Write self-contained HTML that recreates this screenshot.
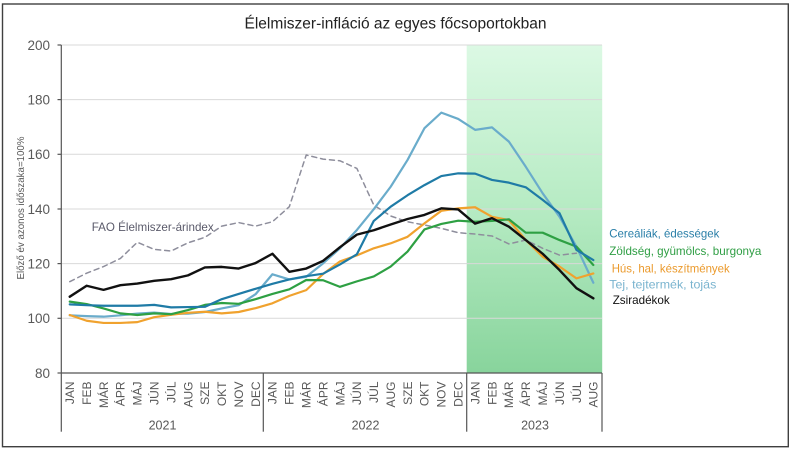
<!DOCTYPE html>
<html>
<head>
<meta charset="utf-8">
<style>
  html,body{margin:0;padding:0;background:#fff;}
  svg{display:block;}
  text{font-family:"Liberation Sans",Arial,sans-serif;}
</style>
</head>
<body>
<svg width="793" height="451" viewBox="0 0 793 451" xmlns="http://www.w3.org/2000/svg">
  <defs>
    <linearGradient id="g23" x1="0" y1="0" x2="0" y2="1">
      <stop offset="0" stop-color="#dcf9e4"/>
      <stop offset="0.5" stop-color="#b6ebc3"/>
      <stop offset="1" stop-color="#88d49c"/>
    </linearGradient>
  </defs>
  <rect x="0" y="0" width="793" height="451" fill="#fff"/>
  <rect x="2.5" y="4" width="785.8" height="442.7" fill="#fff" stroke="#404040" stroke-width="1.4"/>

  <!-- title -->
  <text x="395.5" y="28.5" font-size="15.5" text-anchor="middle" fill="#222" textLength="302" lengthAdjust="spacingAndGlyphs">Élelmiszer-infláció az egyes főcsoportokban</text>

  <!-- green 2023 region -->
  <rect x="466.7" y="45" width="135.5" height="328" fill="url(#g23)"/>

  <!-- gridlines -->
  <g stroke="#d9d9d9" stroke-width="1">
    <line x1="61.3" y1="45" x2="602" y2="45"/>
    <line x1="61.3" y1="99.6" x2="602" y2="99.6"/>
    <line x1="61.3" y1="154.3" x2="602" y2="154.3"/>
    <line x1="61.3" y1="209" x2="602" y2="209"/>
    <line x1="61.3" y1="263.6" x2="602" y2="263.6"/>
    <line x1="61.3" y1="318.3" x2="602" y2="318.3"/>
  </g>

  <!-- y axis -->
  <g stroke="#555" stroke-width="1.2">
    <line x1="61.3" y1="45" x2="61.3" y2="373"/>
    <line x1="57.5" y1="45" x2="61.3" y2="45"/>
    <line x1="57.5" y1="99.6" x2="61.3" y2="99.6"/>
    <line x1="57.5" y1="154.3" x2="61.3" y2="154.3"/>
    <line x1="57.5" y1="209" x2="61.3" y2="209"/>
    <line x1="57.5" y1="263.6" x2="61.3" y2="263.6"/>
    <line x1="57.5" y1="318.3" x2="61.3" y2="318.3"/>
    <line x1="57.5" y1="373" x2="61.3" y2="373"/>
    <!-- x axis -->
    <line x1="61.3" y1="373" x2="602" y2="373"/>
    <line x1="61.3" y1="373" x2="61.3" y2="431.7"/>
    <line x1="263.3" y1="373" x2="263.3" y2="431.7"/>
    <line x1="466.7" y1="373" x2="466.7" y2="431.7"/>
    <line x1="602" y1="373" x2="602" y2="431.7"/>
  </g>
  <g font-size="13.5" fill="#595959" text-anchor="end">
    <text x="50" y="49.8">200</text>
    <text x="50" y="104.4">180</text>
    <text x="50" y="159.1">160</text>
    <text x="50" y="213.8">140</text>
    <text x="50" y="268.4">120</text>
    <text x="50" y="323.1">100</text>
    <text x="50" y="377.8">80</text>
  </g>
  <text transform="translate(23.8,208) rotate(-90)" font-size="10.5" fill="#595959" text-anchor="middle" textLength="143" lengthAdjust="spacingAndGlyphs">Előző év azonos időszaka=100%</text>

  <!-- month labels -->
  <g font-size="12" fill="#595959" text-anchor="end">
    <text transform="translate(74.0,381.5) rotate(-90)">JAN</text>
    <text transform="translate(90.9,381.5) rotate(-90)">FEB</text>
    <text transform="translate(107.8,381.5) rotate(-90)">MÁR</text>
    <text transform="translate(124.7,381.5) rotate(-90)">ÁPR</text>
    <text transform="translate(141.6,381.5) rotate(-90)">MÁJ</text>
    <text transform="translate(158.5,381.5) rotate(-90)">JÚN</text>
    <text transform="translate(175.4,381.5) rotate(-90)">JÚL</text>
    <text transform="translate(192.3,381.5) rotate(-90)">AUG</text>
    <text transform="translate(209.2,381.5) rotate(-90)">SZE</text>
    <text transform="translate(226.1,381.5) rotate(-90)">OKT</text>
    <text transform="translate(242.9,381.5) rotate(-90)">NOV</text>
    <text transform="translate(259.8,381.5) rotate(-90)">DEC</text>
    <text transform="translate(276.7,381.5) rotate(-90)">JAN</text>
    <text transform="translate(293.6,381.5) rotate(-90)">FEB</text>
    <text transform="translate(310.5,381.5) rotate(-90)">MÁR</text>
    <text transform="translate(327.4,381.5) rotate(-90)">ÁPR</text>
    <text transform="translate(344.3,381.5) rotate(-90)">MÁJ</text>
    <text transform="translate(361.2,381.5) rotate(-90)">JÚN</text>
    <text transform="translate(378.1,381.5) rotate(-90)">JÚL</text>
    <text transform="translate(395.0,381.5) rotate(-90)">AUG</text>
    <text transform="translate(411.9,381.5) rotate(-90)">SZE</text>
    <text transform="translate(428.7,381.5) rotate(-90)">OKT</text>
    <text transform="translate(445.6,381.5) rotate(-90)">NOV</text>
    <text transform="translate(462.5,381.5) rotate(-90)">DEC</text>
    <text transform="translate(479.4,381.5) rotate(-90)">JAN</text>
    <text transform="translate(496.3,381.5) rotate(-90)">FEB</text>
    <text transform="translate(513.2,381.5) rotate(-90)">MÁR</text>
    <text transform="translate(530.1,381.5) rotate(-90)">ÁPR</text>
    <text transform="translate(547.0,381.5) rotate(-90)">MÁJ</text>
    <text transform="translate(563.9,381.5) rotate(-90)">JÚN</text>
    <text transform="translate(580.8,381.5) rotate(-90)">JÚL</text>
    <text transform="translate(597.6,381.5) rotate(-90)">AUG</text>
  </g>
  <g font-size="12.5" fill="#595959" text-anchor="middle">
    <text x="162.5" y="429.5">2021</text>
    <text x="365.5" y="429.5">2022</text>
    <text x="535" y="429.5">2023</text>
  </g>

  <!-- series: x = month index, y = value -->
  <g transform="translate(69.75,591.8) scale(16.89,-2.735)" fill="none" stroke-linejoin="round" stroke-linecap="round">
    <!-- FAO dashed -->
    <polyline vector-effect="non-scaling-stroke" stroke="#8e8e9c" stroke-width="1.5" stroke-dasharray="5,4"
      points="0,113.4 1,116.5 2,118.9 3,121.9 4,127.8 5,125.2 6,124.6 7,127.6 8,129.6 9,133.7 10,135 11,133.7 12,135.3 13,140.8 14,159.7 15,158.2 16,157.6 17,154.8 18,141.4 19,137.4 20,135.3 21,134.1 22,132.9 23,131.3 24,130.8 25,130.1 26,127.2 27,128.6 28,125.6 29,123.1 30,123.8"/>
    <!-- Tej -->
    <polyline vector-effect="non-scaling-stroke" stroke="#6aaccb" stroke-width="2.2"
      points="0,101.1 1,100.8 2,100.6 3,101.1 4,101.7 5,102.1 6,101.6 7,101.7 8,102.3 9,103.6 10,104.8 11,108.8 12,116.1 13,114.2 14,115.2 15,120.1 16,125.6 17,132.3 18,139.9 19,148.1 20,157.9 21,169.5 22,175.2 23,172.9 24,168.9 25,169.8 26,164.6 27,155.4 28,145.7 29,137.1 30,126.2 31,113"/>
    <!-- Hús -->
    <polyline vector-effect="non-scaling-stroke" stroke="#f0a22e" stroke-width="2.2"
      points="0,101.2 1,99.1 2,98.3 3,98.3 4,98.6 5,100.4 6,101.3 7,102 8,102.4 9,101.8 10,102.3 11,103.7 12,105.5 13,108.2 14,110.3 15,116.2 16,120.8 17,123 18,125.6 19,127.4 20,129.8 21,134.7 22,139.3 23,140.2 24,140.6 25,137.1 26,135.9 27,128.6 28,122.5 29,118.9 30,114.6 31,116.4"/>
    <!-- Zöldség -->
    <polyline vector-effect="non-scaling-stroke" stroke="#2ea043" stroke-width="2.2"
      points="0,106.1 1,105.2 2,103.6 3,101.8 4,101.2 5,101.8 6,101.5 7,103 8,104.9 9,105.6 10,105.3 11,107 12,108.9 13,110.6 14,114 15,113.9 16,111.5 17,113.5 18,115.3 19,118.9 20,124.4 21,132.5 22,134.5 23,135.7 24,135.3 25,135.6 26,136.2 27,131.3 28,131.3 29,128.6 30,126.2 31,119.5"/>
    <!-- Cereáliák -->
    <polyline vector-effect="non-scaling-stroke" stroke="#1f7ba6" stroke-width="2.2"
      points="0,105.1 1,104.8 2,104.6 3,104.6 4,104.6 5,104.9 6,104 7,104.1 8,104.2 9,107 10,108.9 11,110.8 12,112.6 13,114.2 14,115.4 15,116.3 16,119.7 17,123.4 18,135.6 19,140.8 20,145 21,148.7 22,152 23,153 24,152.9 25,150.6 26,149.6 27,147.9 28,143.3 29,138.4 30,125 31,121.3"/>
    <!-- Zsiradékok -->
    <polyline vector-effect="non-scaling-stroke" stroke="#111" stroke-width="2.4"
      points="0,107.9 1,111.9 2,110.4 3,112.1 4,112.7 5,113.7 6,114.3 7,115.7 8,118.6 9,118.8 10,118.2 11,120.2 12,123.6 13,117 14,118.2 15,121 16,126 17,130.6 18,132.2 19,134.3 20,136.3 21,137.8 22,140.2 23,139.8 24,134.6 25,136.6 26,133.5 27,128.6 28,123.6 29,117.6 30,111 31,107.3"/>
  </g>

  <!-- FAO label -->
  <text x="91.7" y="231" font-size="12" fill="#5a5a6a" textLength="122" lengthAdjust="spacingAndGlyphs">FAO Élelmiszer-árindex</text>

  <!-- legend -->
  <g font-size="12">
    <text x="609.3" y="237.5" fill="#2a7fa8" textLength="110" lengthAdjust="spacingAndGlyphs">Cereáliák, édességek</text>
    <text x="609.3" y="255.2" fill="#2f9e44" textLength="152" lengthAdjust="spacingAndGlyphs">Zöldség, gyümölcs, burgonya</text>
    <text x="611.7" y="272.5" fill="#eb9a2c" textLength="118" lengthAdjust="spacingAndGlyphs">Hús, hal, készítmények</text>
    <text x="609.3" y="288.5" fill="#7ab4cf" textLength="107" lengthAdjust="spacingAndGlyphs">Tej, tejtermék, tojás</text>
    <text x="612.7" y="304.2" fill="#111" textLength="57" lengthAdjust="spacingAndGlyphs">Zsiradékok</text>
  </g>
</svg>
</body>
</html>
